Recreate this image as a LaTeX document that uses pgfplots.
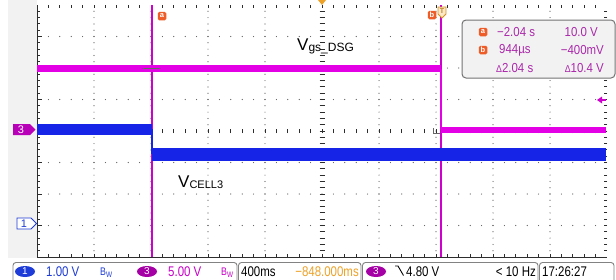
\documentclass[border=0pt]{standalone}
\usepackage{pgfplots}
\pgfplotsset{compat=1.18}
\usepackage{graphicx}
\usepackage{fontspec}
\setmainfont{Liberation Sans}
\definecolor{trmag}{RGB}{228,0,228}
\definecolor{trblue}{RGB}{22,36,232}
\definecolor{curmag}{RGB}{205,0,205}
\definecolor{gridc}{RGB}{90,90,90}
\definecolor{tickc}{RGB}{45,45,45}
\definecolor{orng}{RGB}{238,92,40}
\definecolor{gold}{RGB}{238,162,40}
\definecolor{boxtext}{RGB}{170,40,170}
\definecolor{chblue}{RGB}{30,60,215}
\definecolor{chmag}{RGB}{200,0,200}
\definecolor{ovmag}{RGB}{165,0,165}
\definecolor{chlab}{RGB}{185,0,185}
\definecolor{barborder}{RGB}{130,130,130}
\newcommand{\fs}[1]{\fontsize{#1}{#1}\selectfont}
\newcommand{\bartext}[1]{\scalebox{0.82}[1]{\fs{14}#1}}
\newcommand{\boxt}[1]{\scalebox{0.88}[1]{\fs{13}#1}}
\newcommand{\curicon}[3]{\node[fill=orng,rounded corners=1.5pt,inner sep=0pt,minimum width=8.5pt,minimum height=8.5pt,text=white,font=\fs{7.5}\bfseries] at (#1,-#2) {#3};}
\begin{document}
\begin{tikzpicture}[x=1pt,y=1pt]
\useasboundingbox (0,0) rectangle (616,-279);
\fill[white] (0,0) rectangle (616,-279);
\fill[black!5] (8,0) rectangle (36.5,-258);
\begin{scope}[shift={(37,-131)},x=57pt,y=31.5pt]
 \foreach \i in {1,2,3,4,6,7,8,9}{
   \foreach \j in {-19,...,19}{\fill[gridc] (\i,0.2*\j) circle[radius=0.6pt];}}
 \foreach \j in {-3,-2,-1,1,2,3}{
   \foreach \k in {1,...,49}{\fill[gridc] (0.2*\k,\j) circle[radius=0.6pt];}}
 \foreach \j in {-19,...,19}{\draw[tickc,line width=0.9pt] (5,0.2*\j) ++(-2.5pt,0) -- ++(5pt,0);}
 \foreach \k in {1,...,49}{\draw[tickc,line width=0.9pt] (0.2*\k,0) ++(0,-2pt) -- ++(0,4pt);}
 \draw[tickc,line width=1pt] (0,4) -- (0,-4) -- (10,-4);
 \foreach \j in {-19,...,19}{\draw[tickc,line width=0.9pt] (0,0.2*\j) -- ++(3pt,0);}
 \foreach \j in {-3,...,3}{\draw[tickc,line width=0.9pt] (0,\j) -- ++(5pt,0);}
 \foreach \k in {1,...,49}{\draw[tickc,line width=0.9pt] (0.2*\k,-4) -- ++(0,3pt);}
 \foreach \k in {1,...,49}{\draw[tickc,line width=0.9pt] (0.2*\k,4) -- ++(0,-2.5pt);}
 \foreach \j in {-19,...,19}{\draw[tickc,line width=0.9pt] (10,0.2*\j) -- ++(-3pt,0);}
 \draw[curmag,line width=1.4pt] (2.02,-4) -- (2.02,4);
 \draw[curmag,line width=1.4pt] (7.09,-4) -- (7.09,4);
\end{scope}
\begin{axis}[at={(37pt,-257pt)},anchor=south west,width=570pt,height=252pt,scale only axis,
  xmin=0,xmax=10,ymin=-4,ymax=4,hide axis,clip=false]
 \addplot[trmag,line width=6.5pt,line cap=butt] coordinates {(0,1.98) (7.09,1.98)};
 \addplot[trmag,line width=1.4pt] coordinates {(7.09,1.98) (7.09,0.02)};
 \addplot[trmag,line width=6pt,line cap=butt] coordinates {(7.09,0.02) (9.98,0.02)};
 \addplot[trblue,line width=11pt,line cap=butt] coordinates {(0,0.06) (2.02,0.06)};
 \addplot[trblue,line width=1.4pt] coordinates {(2.02,0.06) (2.02,-0.73)};
 \addplot[trblue,line width=13pt,line cap=butt] coordinates {(2.02,-0.73) (9.98,-0.73)};
\end{axis}
% cursor crosshair marks
\draw[black!60,line width=0.8pt] (143,-68) -- (160,-68);
\draw[black!60,line width=0.8pt] (433,-128) -- (433,-133) -- (440,-133);
% top markers
\fill[gold] (318,0) -- (326,0) -- (322,-5) -- cycle;
\curicon{162}{16}{a}
\curicon{432}{15}{b}
\filldraw[draw=gold!90!black,fill=gold!25,line width=0.8pt] (438,-7) -- (446,-7) -- (446,-14) -- (442,-18) -- (438,-14) -- cycle;
\node[text=gold!80!black,font=\fs{7}\bfseries] at (442,-11.5) {T};
% trigger level arrow
\fill[curmag] (597,-100) -- (602,-96.5) -- (602,-103.5) -- cycle;
\draw[curmag,line width=1.2pt] (601,-100) -- (606,-100);
% channel ground markers
\fill[chlab] (13,-124) -- (30,-124) -- (35.5,-129.5) -- (30,-135) -- (13,-135) -- cycle;
\node[text=white,font=\fs{11}] at (21,-129.5) {3};
\filldraw[fill=white,draw=chblue,line width=0.9pt] (17,-218) -- (31,-218) -- (36.5,-223.5) -- (31,-229) -- (17,-229) -- cycle;
\node[text=chblue,font=\fs{11}] at (24,-223.5) {1};
% trace labels
\node[anchor=base west,inner sep=0pt] at (297,-50) {\fs{17}V\fs{12}\raisebox{-1.5pt}{gs\_DSG}};
\node[anchor=base west,inner sep=0pt] at (178,-187) {\fs{17}V\fs{11}\raisebox{-1.5pt}{CELL3}};
% cursor readout
\filldraw[fill=black!5,draw=black!55,line width=1pt,rounded corners=4pt] (462,-20) rectangle (615,-78);
\curicon{483}{32}{a}
\curicon{483}{50}{b}
\node[anchor=west,inner sep=0pt,text=boxtext] at (497,-32) {\boxt{−2.04 s}};
\node[anchor=east,inner sep=0pt,text=boxtext] at (598,-32) {\boxt{10.0 V}};
\node[anchor=west,inner sep=0pt,text=boxtext] at (499,-50) {\boxt{944µs}};
\node[anchor=east,inner sep=0pt,text=boxtext] at (604,-50) {\boxt{−400mV}};
\node[anchor=west,inner sep=0pt,text=boxtext] at (496,-68) {\boxt{{\fs{10}Δ}2.04 s}};
\node[anchor=east,inner sep=0pt,text=boxtext] at (604,-68) {\boxt{{\fs{10}Δ}10.4 V}};
% status bar
\draw[barborder,line width=0.9pt,rounded corners=3pt] (13,-262.5) rectangle (237,-283);
\draw[barborder,line width=0.9pt,rounded corners=3pt] (238.5,-262.5) rectangle (361,-283);
\draw[barborder,line width=0.9pt,rounded corners=3pt] (362.5,-262.5) rectangle (538,-283);
\draw[barborder,line width=0.9pt,rounded corners=3pt] (539.5,-262.5) rectangle (614,-283);
\fill[chblue] (25,-271.5) ellipse[x radius=10pt,y radius=5.5pt];
\node[text=white,font=\fs{10}] at (25,-271.5) {1};
\node[anchor=base west,inner sep=0pt,text=chblue] at (46,-276) {\bartext{1.00 V}};
\node[anchor=base west,inner sep=0pt,text=chblue] at (100,-275) {\scalebox{0.8}[1]{\fs{11}B\raisebox{-2pt}{\fs{8}W}}};
\fill[ovmag] (147,-271.5) ellipse[x radius=10pt,y radius=5.5pt];
\node[text=white,font=\fs{10}] at (147,-271.5) {3};
\node[anchor=base west,inner sep=0pt,text=chmag] at (168,-276) {\bartext{5.00 V}};
\node[anchor=base west,inner sep=0pt,text=chmag] at (221,-275) {\scalebox{0.8}[1]{\fs{11}B\raisebox{-2pt}{\fs{8}W}}};
\node[anchor=base west,inner sep=0pt] at (241,-276) {\bartext{400ms}};
\node[anchor=base east,inner sep=0pt,text=gold] at (359,-276) {\bartext{−848.000ms}};
\fill[ovmag] (376,-271.5) ellipse[x radius=10pt,y radius=5.5pt];
\node[text=white,font=\fs{10}] at (376,-271.5) {3};
\draw[black,line width=0.9pt] (395,-266) -- (398,-266) -- (403.5,-275.5);
\node[anchor=base west,inner sep=0pt] at (406,-276) {\bartext{4.80 V}};
\node[anchor=base east,inner sep=0pt] at (536,-276) {\bartext{< 10 Hz}};
\node[anchor=base west,inner sep=0pt] at (542,-276) {\bartext{17:26:27}};
\end{tikzpicture}
\end{document}
